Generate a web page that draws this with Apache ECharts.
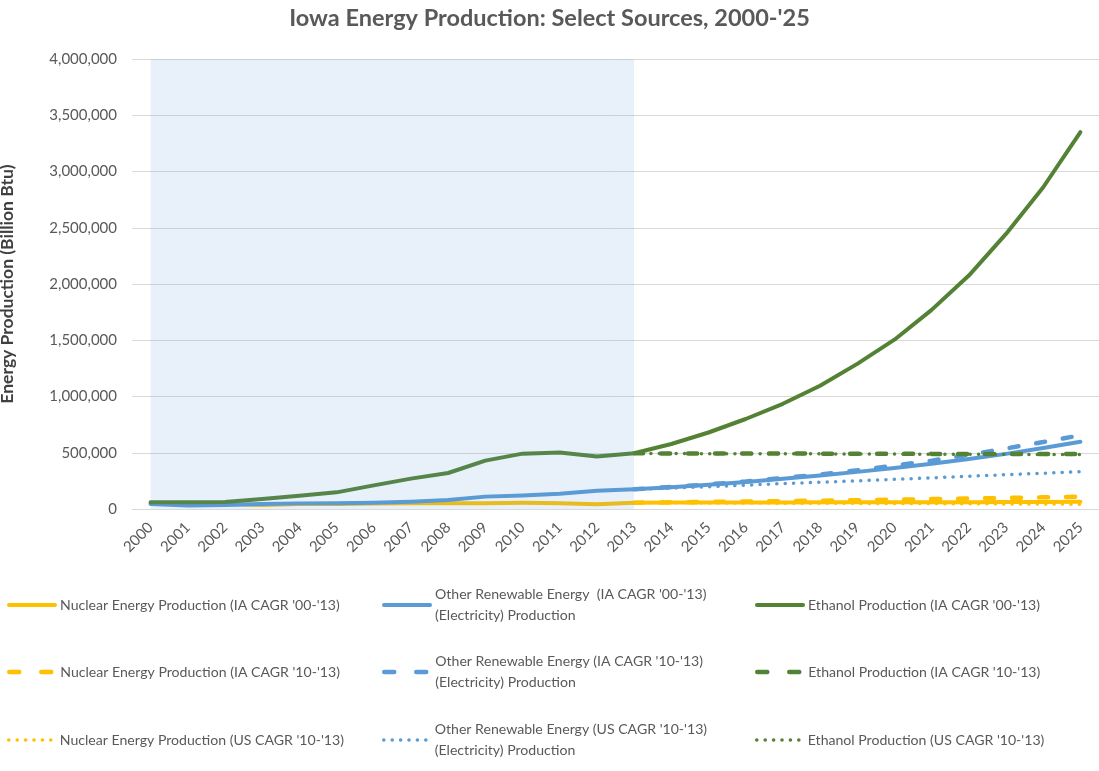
<!DOCTYPE html>
<html>
<head>
<meta charset="utf-8">
<title>Iowa Energy Production</title>
<script src="https://cdn.jsdelivr.net/npm/echarts@6/dist/echarts.min.js"></script>
<style>
  html, body { margin: 0; padding: 0; background: #fff; }
  #chart { width: 1099px; height: 771px; }
</style>
</head>
<body>
<div id="chart"></div>
<script>
// years on the x axis
var years = ['2000','2001','2002','2003','2004','2005','2006','2007','2008','2009','2010','2011','2012','2013',
  '2014','2015','2016','2017','2018','2019','2020','2021','2022','2023','2024','2025'];

// history 2000-2013 (Billion Btu)
var nuclearHist = [50000, 45000, 45000, 35000, 45000, 45000, 48000, 50000, 52000, 52000, 55000, 52000, 42000, 56000];
var renewHist   = [44000, 30000, 35000, 45000, 50000, 52000, 55000, 65000, 80000, 110000, 120000, 136000, 163000, 175000];
var ethanolHist = [60000, 60000, 62000, 88000, 117000, 148000, 210000, 270000, 320000, 430000, 492000, 502000, 466000, 495000];

// projections 2014-2025
var nuclearIA0013 = [57000, 57000, 58000, 58000, 59000, 59000, 60000, 61000, 61000, 62000, 63000, 64000];
var nuclearIA1013 = [59000, 63000, 66000, 70000, 74000, 78000, 83000, 88000, 93000, 98000, 104000, 110000];
var nuclearUS1013 = [55000, 54000, 53000, 52000, 51000, 50000, 49000, 48000, 47000, 45000, 44000, 43000];

var renewIA0013 = [194000, 215000, 240000, 268000, 298000, 330000, 365000, 403000, 444000, 490000, 542000, 598000];
var renewIA1013 = [196000, 219000, 245000, 275000, 307000, 344000, 385000, 430000, 482000, 538000, 595000, 655000];
var renewUS1013 = [186000, 198000, 212000, 226000, 238000, 250000, 264000, 277000, 291000, 305000, 318000, 332000];

var ethanolIA0013 = [578000, 680000, 800000, 935000, 1095000, 1290000, 1505000, 1770000, 2075000, 2445000, 2860000, 3350000];
var ethanolIA1013 = [494000, 494000, 493000, 493000, 492000, 492000, 491000, 490000, 490000, 489000, 488000, 488000];
var ethanolUS1013 = [493000, 492000, 492000, 491000, 490000, 489000, 488000, 487000, 486000, 486000, 485000, 484000];

var yMax = 4000000;
var yStep = 500000;

function full(hist, proj) {
  return hist.concat(proj);
}
function fromLast(hist, proj) {
  var arr = [];
  for (var i = 0; i < hist.length - 1; i++) arr.push(null);
  arr.push(hist[hist.length - 1]);
  return arr.concat(proj);
}

var YELLOW = '#FFC000', BLUE = '#5B9BD5', GREEN = '#548235';
var FONT = 'Lato, "Open Sans", sans-serif';

var names = {
  n1: "Nuclear Energy Production (IA CAGR '00-'13)",
  r1: "Other Renewable Energy (Electricity) Production (IA CAGR '00-'13)",
  e1: "Ethanol Production (IA CAGR '00-'13)",
  n2: "Nuclear Energy Production (IA CAGR '10-'13)",
  r2: "Other Renewable Energy (Electricity) Production (IA CAGR '10-'13)",
  e2: "Ethanol Production (IA CAGR '10-'13)",
  n3: "Nuclear Energy Production (US CAGR '10-'13)",
  r3: "Other Renewable Energy (Electricity) Production (US CAGR '10-'13)",
  e3: "Ethanol Production (US CAGR '10-'13)"
};
var shown = {};
shown[names.r1] = "Other Renewable Energy  (IA CAGR '00-'13)\n(Electricity) Production";
shown[names.r2] = "Other Renewable Energy (IA CAGR '10-'13)\n(Electricity) Production";
shown[names.r3] = "Other Renewable Energy (US CAGR '10-'13)\n(Electricity) Production";

var solid = { width: 4, type: 'solid', cap: 'round', join: 'round' };
var dashed = { width: 4.5, type: [9, 18], cap: 'round' };
var dotted = { width: 3.5, type: [0.1, 8.3], cap: 'round' };
var legendSolid = { width: 4, type: 'solid', cap: 'round' };
var legendDashed = { width: 4.5, type: [10, 22], cap: 'round' };
var legendDotted = { width: 3.5, type: [0.1, 8.3], cap: 'round' };

function lineSeries(name, color, style, data, z) {
  return {
    name: name,
    type: 'line',
    data: data,
    symbol: 'none',
    smooth: false,
    connectNulls: false,
    z: z,
    itemStyle: { color: color },
    lineStyle: Object.assign({ color: color }, style),
    emphasis: { disabled: true }
  };
}

var series = [
  lineSeries(names.n1, YELLOW, solid, full(nuclearHist, nuclearIA0013), 2),
  lineSeries(names.r1, BLUE, solid, full(renewHist, renewIA0013), 3),
  lineSeries(names.e1, GREEN, solid, full(ethanolHist, ethanolIA0013), 4),
  lineSeries(names.n2, YELLOW, dashed, fromLast(nuclearHist, nuclearIA1013), 5),
  lineSeries(names.r2, BLUE, dashed, fromLast(renewHist, renewIA1013), 6),
  lineSeries(names.e2, GREEN, dashed, fromLast(ethanolHist, ethanolIA1013), 7),
  lineSeries(names.n3, YELLOW, dotted, fromLast(nuclearHist, nuclearUS1013), 8),
  lineSeries(names.r3, BLUE, dotted, fromLast(renewHist, renewUS1013), 9),
  lineSeries(names.e3, GREEN, dotted, fromLast(ethanolHist, ethanolUS1013), 10)
];

// shaded history band, drawn over the lines
series[0].markArea = {
  silent: true,
  z: 20,
  itemStyle: { color: 'rgba(91,155,213,0.14)' },
  data: [[{ xAxis: '2000' }, { xAxis: '2013' }]]
};

// legend: 3 columns x 3 rows
var colX = [7, 382, 755];
var rowY = [605, 672, 740];
var rowStyle = [legendSolid, legendDashed, legendDotted];
var grid3 = [
  [names.n1, names.r1, names.e1],
  [names.n2, names.r2, names.e2],
  [names.n3, names.r3, names.e3]
];
var legends = [];
for (var r = 0; r < 3; r++) {
  for (var c = 0; c < 3; c++) {
    var nm = grid3[r][c];
    var twoLine = !!shown[nm];
    legends.push({
      data: [nm],
      left: colX[c],
      top: twoLine ? rowY[r] - 31.5 : rowY[r] - 8,
      padding: 0,
      itemWidth: 46,
      itemHeight: 14,
      selectedMode: false,
      itemStyle: { opacity: 0 },
      lineStyle: rowStyle[r],
      formatter: function (n) { return shown[n] || n; },
      textStyle: {
        fontFamily: FONT,
        fontSize: 14.1,
        color: '#595959',
        lineHeight: twoLine ? 21 : 16,
        padding: twoLine ? [21, 0, 0, 0] : 0
      }
    });
  }
}

var chart = echarts.init(document.getElementById('chart'));
chart.setOption({
  backgroundColor: '#fff',
  animation: false,
  title: {
    text: "Iowa Energy Production: Select Sources, 2000-'25",
    left: 'center',
    top: 1,
    textStyle: { fontFamily: FONT, fontSize: 23.5, fontWeight: 'bold', color: '#595959' }
  },
  legend: legends,
  grid: { left: 132, right: 0, top: 59, bottom: 262, containLabel: false, outerBoundsMode: 'none' },
  xAxis: {
    type: 'category',
    data: years,
    boundaryGap: true,
    axisLine: { show: true, lineStyle: { color: '#d9d9d9', width: 1 } },
    axisTick: { show: false },
    axisLabel: {
      rotate: 45,
      interval: 0,
      margin: 16,
      fontFamily: FONT,
      fontSize: 15,
      color: '#595959'
    },
    splitLine: { show: false }
  },
  yAxis: {
    type: 'value',
    min: 0,
    max: yMax,
    interval: yStep,
    name: 'Energy Production (Billion Btu)',
    nameLocation: 'middle',
    nameGap: 116,
    nameTextStyle: { fontFamily: FONT, fontSize: 17.5, fontWeight: 'bold', color: '#404040' },
    axisLine: { show: false },
    axisTick: { show: false },
    axisLabel: {
      margin: 15,
      fontFamily: FONT,
      fontSize: 15,
      color: '#595959',
      formatter: function (v) { return v.toLocaleString('en-US'); }
    },
    splitLine: { lineStyle: { color: '#d9d9d9', width: 1 } }
  },
  series: series
});
</script>
</body>
</html>
